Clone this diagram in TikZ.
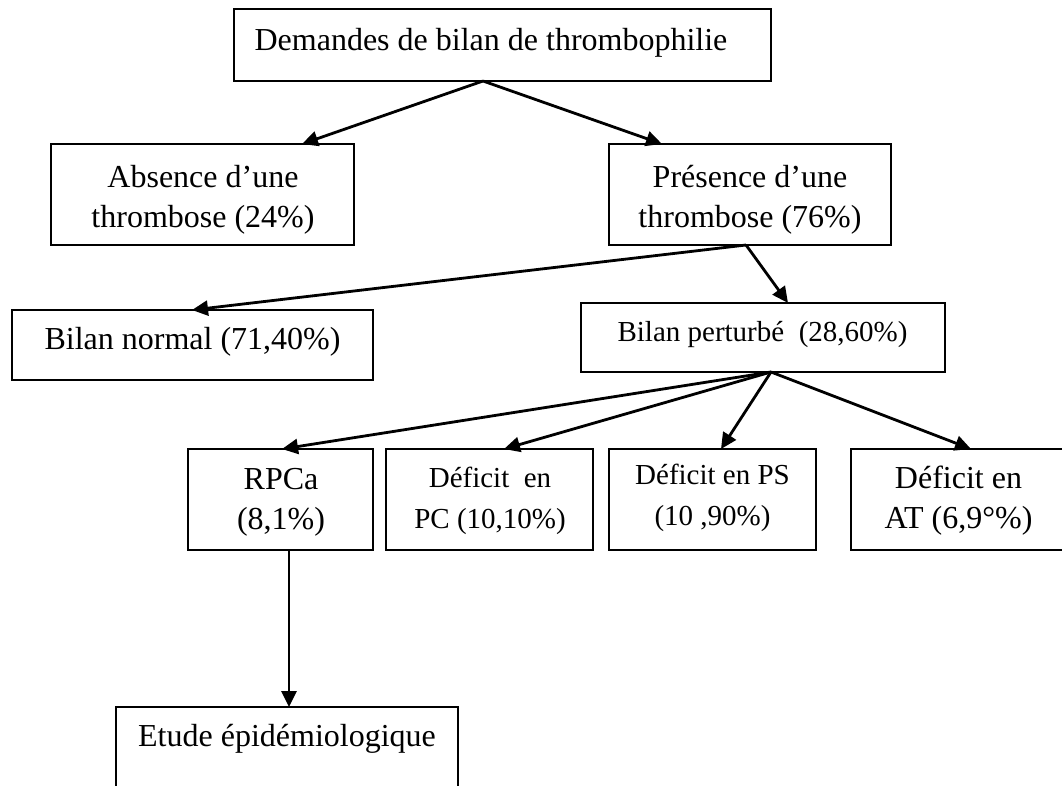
\documentclass[tikz,border=0pt]{standalone}
\usepackage{fontspec}
\setmainfont{Liberation Serif}
\usetikzlibrary{arrows.meta}
\tikzset{
  box/.style={draw=black, line width=2pt, rectangle, inner sep=0pt, outer sep=0pt},
  big/.style={font=\fontsize{32}{40}\selectfont, align=center, inner sep=0pt},
  small/.style={font=\fontsize{29}{41}\selectfont, align=center, inner sep=0pt},
  arr/.style={line width=2.8pt, -{Triangle[length=16pt,width=15pt]}}
}
\begin{document}
\begin{tikzpicture}[x=1pt,y=-1pt]
\useasboundingbox[fill=white] (0,0) rectangle (1062,785);
% boxes
\node[box, minimum width=537, minimum height=72] (top) at (502.5,45) {};
\node[box, minimum width=303, minimum height=101] (abs) at (202.5,194.5) {};
\node[box, minimum width=282, minimum height=101] (pres) at (750,194.5) {};
\node[box, minimum width=361, minimum height=70] (normal) at (192.5,345) {};
\node[box, minimum width=364, minimum height=69] (pert) at (763,337.5) {};
\node[box, minimum width=185, minimum height=101] (rpca) at (280.5,499.5) {};
\node[box, minimum width=207, minimum height=101] (pc) at (489.5,499.5) {};
\node[box, minimum width=207, minimum height=101] (ps) at (712.5,499.5) {};
\node[box, minimum width=215, minimum height=101] (at) at (958.5,499.5) {};
\node[box, minimum width=342, minimum height=103, anchor=north] (etude) at (287,707) {};
% texts
\node[big] (topt) at (491,43) {Demandes de bilan de thrombophilie};
\node[big] (abst) at (203,200) {Absence d’une\\thrombose (24\%)};
\node[big] (prest) at (750,200) {Présence d’une\\thrombose (76\%)};
\node[big] (normalt) at (192.5,342) {Bilan normal (71,40\%)};
\node[small] (pertt) at (762.5,334) {Bilan perturbé~ (28,60\%)};
\node[big] (rpcat) at (281,502) {RPCa\\(8,1\%)};
\node[small] (pct) at (490,501) {Déficit~ en\\PC (10,10\%)};
\node[small] (pst) at (712.5,498) {Déficit en PS\\(10 ,90\%)};
\node[big] (att) at (958.5,501) {Déficit en\\AT (6,9°\%)};
\node[big] (etudet) at (287,739) {Etude épidémiologique};
% connectors
\draw[arr] ([xshift=-19.5pt]top.south) -- ([xshift=99.5pt]abs.north);
\draw[arr] ([xshift=-19.5pt]top.south) -- ([xshift=-88pt]pres.north);
\draw[arr] ([xshift=-4pt]pres.south) -- ([xshift=-0.5pt]normal.north);
\draw[arr] ([xshift=-4pt]pres.south) -- ([xshift=25pt]pert.north);
\draw[arr] ([xshift=8pt]pert.south) -- ([xshift=1.5pt]rpca.north);
\draw[arr] ([xshift=8pt]pert.south) -- ([xshift=14.5pt]pc.north);
\draw[arr] ([xshift=8pt]pert.south) -- ([xshift=8.5pt]ps.north);
\draw[arr] ([xshift=8pt]pert.south) -- ([xshift=12.5pt]at.north);
\draw[arr] ([xshift=8.5pt]rpca.south) -- ([xshift=2pt]etude.north);
\end{tikzpicture}
\end{document}
